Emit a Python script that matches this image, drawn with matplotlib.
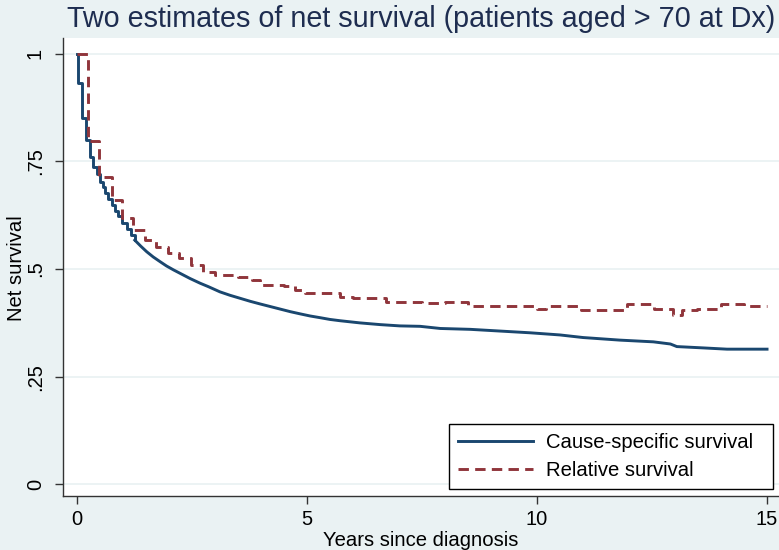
import matplotlib
matplotlib.use("Agg")
import matplotlib.pyplot as plt

# cause-specific (Kaplan-Meier style) estimate
cs_years = [0, 0.03, 0.11, 0.20, 0.29, 0.36, 0.43, 0.50, 0.56, 0.61, 0.68, 0.76, 0.83,
            0.90, 0.99, 1.08, 1.17, 1.26, 1.39, 1.52, 1.66, 1.81, 1.95, 2.10, 2.28,
            2.46, 2.68, 2.86, 3.11, 3.33, 3.55, 3.77, 3.98, 4.20, 4.42, 4.64, 4.85,
            5.07, 5.29, 5.50, 5.72, 6.15, 6.59, 7.02, 7.46, 7.90, 8.55, 9.20, 9.85,
            10.5, 11.0, 11.8, 12.53, 12.9, 13.04, 13.6, 14.13, 15.0]
cs_surv = [1.0, 0.931, 0.850, 0.799, 0.761, 0.737, 0.720, 0.703, 0.690, 0.676, 0.662,
           0.648, 0.635, 0.622, 0.607, 0.592, 0.580, 0.567, 0.553, 0.540, 0.528,
           0.517, 0.507, 0.498, 0.488, 0.478, 0.467, 0.459, 0.447, 0.439, 0.432,
           0.425, 0.419, 0.413, 0.407, 0.401, 0.396, 0.391, 0.387, 0.383, 0.380,
           0.375, 0.371, 0.368, 0.367, 0.362, 0.360, 0.356, 0.352, 0.347, 0.341,
           0.335, 0.331, 0.326, 0.320, 0.317, 0.314, 0.314]

# relative survival (life table intervals)
rs_years = [0, 0.24, 0.49, 0.76, 0.98, 1.23, 1.48, 1.73, 1.98, 2.23, 2.48, 2.74, 3.0,
            3.5, 3.8, 3.98, 4.5, 4.74, 4.96, 5.72, 6.0, 6.73, 7.5, 8.0, 8.5, 10.0,
            10.2, 10.95, 11.95, 12.55, 12.96, 13.15, 13.47, 14.0, 14.5, 15.0]
rs_surv = [1.0, 0.796, 0.714, 0.660, 0.618, 0.590, 0.568, 0.552, 0.537, 0.525, 0.510,
           0.494, 0.487, 0.482, 0.474, 0.463, 0.460, 0.451, 0.445, 0.434, 0.432,
           0.424, 0.422, 0.424, 0.413, 0.408, 0.414, 0.406, 0.418, 0.407, 0.393,
           0.404, 0.408, 0.419, 0.414, 0.414]

xticks = [0, 5, 10, 15]
yticks = [0, 0.25, 0.5, 0.75, 1]
ytick_labels = ["0", ".25", ".5", ".75", "1"]

bg = "#eaf2f3"
navy = "#1a476f"
maroon = "#90353b"

plt.rcParams["font.family"] = ["Liberation Sans", "DejaVu Sans"]
plt.rcParams["lines.scale_dashes"] = False

fig = plt.figure(figsize=(7.79, 5.5), dpi=100, facecolor=bg)
W, H = 779, 550
ax = fig.add_axes([63 / W, 1 - 496 / H, (779 - 63) / W, (496 - 38) / H])
ax.set_facecolor("white")

# big early steps drawn as stairs, the dense tail as a plain line
k = 17
ax.plot(cs_years[:k + 1], cs_surv[:k + 1], drawstyle="steps-post", color=navy, lw=2.1,
        label="Cause-specific survival")
ax.plot(cs_years[k:], cs_surv[k:], color=navy, lw=2.1)
ax.plot(rs_years, rs_surv, drawstyle="steps-post", color=maroon, lw=2.1,
        dashes=(7.5, 4.5), label="Relative survival")

ax.set_xlim(-0.30, 15.26)
ax.set_ylim(-0.0267, 1.036)

ax.set_xticks(xticks)
ax.set_xticklabels([str(t) for t in xticks])
ax.set_yticks(yticks)
ax.set_yticklabels(ytick_labels, rotation=90, va="center")
ax.tick_params(axis="both", labelsize=14.5, length=6, width=1, color="#333333")
ax.tick_params(axis="y", pad=7)
ax.tick_params(axis="x", pad=4)

ax.grid(axis="y", color=bg, lw=1.3)
ax.set_axisbelow(True)
for s in ["top", "right"]:
    ax.spines[s].set_visible(False)
for s in ["left", "bottom"]:
    ax.spines[s].set_color("#333333")
    ax.spines[s].set_linewidth(1)

leg = ax.legend(loc="lower left", bbox_to_anchor=(0.5391, 0.0153, 0.4525, 0.3),
                mode="expand", borderaxespad=0,
                fontsize=14.6, handlelength=3.7, handletextpad=0.65, labelspacing=0.45,
                borderpad=0.45, fancybox=False, framealpha=1, edgecolor="black")
leg.get_frame().set_linewidth(1)

fig.text(421 / W, 1 - 19 / H, "Two estimates of net survival (patients aged > 70 at Dx)",
         ha="center", va="center", fontsize=20.7, color="#1e2d50")
fig.text(421 / W, 1 - 540 / H, "Years since diagnosis", ha="center", va="center",
         fontsize=14.6)
fig.text(17 / W, 1 - 268 / H, "Net survival", ha="center", va="center",
         rotation=90, fontsize=14.6)

fig.savefig("out.png", dpi=100, facecolor=bg)
